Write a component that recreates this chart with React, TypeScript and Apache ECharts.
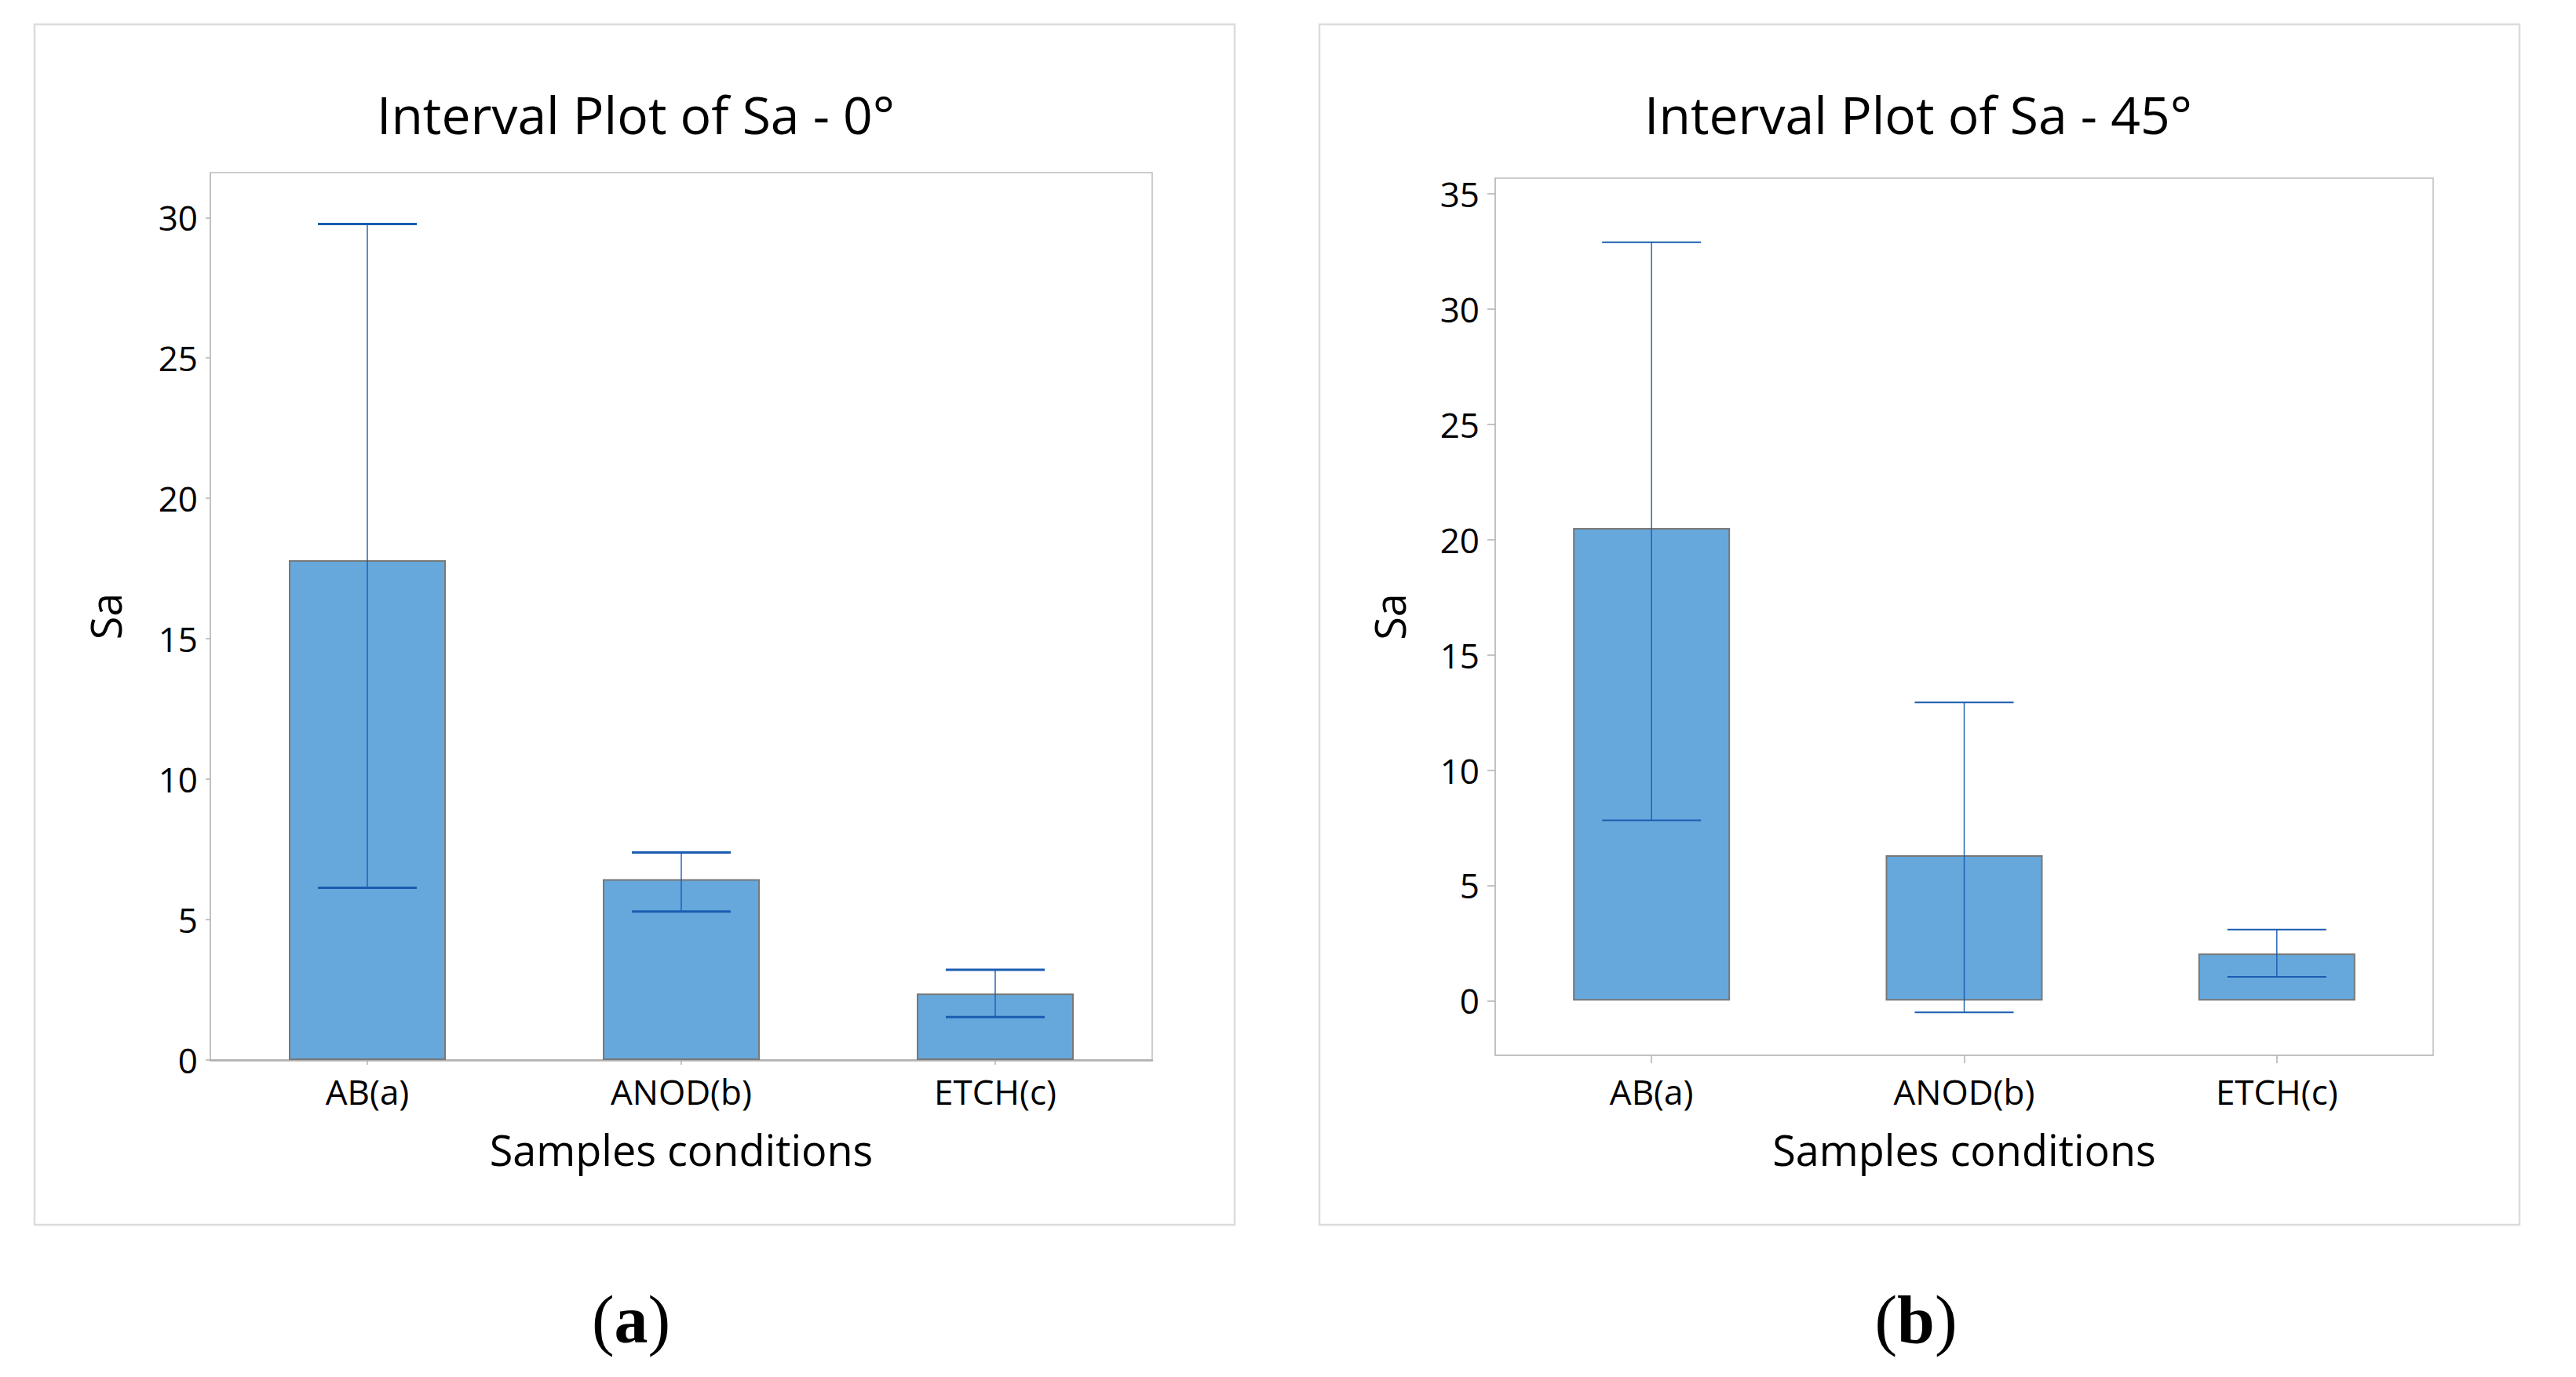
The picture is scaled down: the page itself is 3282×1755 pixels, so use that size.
import React, { useEffect, useRef } from "react";
import * as echarts from "echarts";

const categories = ["AB(a)", "ANOD(b)", "ETCH(c)"];

const means0 = [17.8, 6.44, 2.37];
const lower0 = [6.13, 5.29, 1.53];
const upper0 = [29.77, 7.39, 3.21];
const ticks0 = [0, 5, 10, 15, 20, 25, 30];
const range0 = [0, 31.6];

const means45 = [20.5, 6.31, 2.05];
const lower45 = [7.82, -0.51, 1.03];
const upper45 = [32.9, 12.94, 3.08];
const ticks45 = [0, 5, 10, 15, 20, 25, 30, 35];
const range45 = [-2.37, 35.68];

const titles = ["Interval Plot of Sa - 0°", "Interval Plot of Sa - 45°"];
const panelLabels = ["a", "b"];
const yName = "Sa";
const xName = "Samples conditions";

const FONT = "Open Sans";
const BAR_COLOR = "#66a8dc";
const BAR_BORDER = "#787878";
const ERR_COLOR = "#1a5cb0";
const FRAME = "#bdbdbd";

function errorSeries(lows: number[], highs: number[], idx: number, capW: number) {
  return {
    type: "custom",
    xAxisIndex: idx,
    yAxisIndex: idx,
    z: 5,
    data: lows.map((l, i) => [i, l, highs[i]]),
    encode: { x: 0, y: [1, 2] },
    renderItem: (params: any, api: any) => {
      const lo = api.coord([api.value(0), api.value(1)]);
      const hi = api.coord([api.value(0), api.value(2)]);
      const half = 63;
      return {
        type: "group",
        children: [
          { type: "line", shape: { x1: lo[0], y1: lo[1], x2: hi[0], y2: hi[1] }, style: { stroke: ERR_COLOR, lineWidth: 1.4 } },
          { type: "line", shape: { x1: lo[0] - half, y1: lo[1], x2: lo[0] + half, y2: lo[1] }, style: { stroke: ERR_COLOR, lineWidth: capW } },
          { type: "line", shape: { x1: hi[0] - half, y1: hi[1], x2: hi[0] + half, y2: hi[1] }, style: { stroke: ERR_COLOR, lineWidth: capW } },
        ],
      };
    },
  };
}

export default function App() {
  const ref = useRef<HTMLDivElement>(null);
  useEffect(() => {
    document.body.style.margin = "0";
    const chart = echarts.init(ref.current!, undefined, { renderer: "svg" });
    const grids = [
      { left: 268, top: 220, width: 1200, height: 1131 },
      { left: 1905, top: 227, width: 1195, height: 1118 },
    ];
    const xAxisBase = (idx: number, lineW: number, lineColor: string, margin: number, tickLen: number, nameGap: number) => ({
      type: "category",
      gridIndex: idx,
      data: categories,
      boundaryGap: true,
      axisLine: { show: true, onZero: false, lineStyle: { color: lineColor, width: lineW } },
      axisTick: { show: true, alignWithLabel: true, length: tickLen, lineStyle: { color: "#b0b0b0", width: 1.5 } },
      axisLabel: { fontFamily: FONT, fontSize: 44, color: "#000", margin },
      name: xName,
      nameLocation: "middle",
      nameGap,
      nameTextStyle: { fontFamily: FONT, fontSize: 54, color: "#000" },
    });
    const yAxisBase = (idx: number, range: number[], ticks: number[], gap: number, margin: number, tickLen: number) => ({
      type: "value",
      gridIndex: idx,
      min: range[0],
      max: range[1],
      axisLine: { show: true, lineStyle: { color: FRAME, width: 1.5 } },
      axisTick: { show: true, length: tickLen, customValues: ticks, lineStyle: { color: "#b0b0b0", width: 1.5 } },
      axisLabel: { fontFamily: FONT, fontSize: 44, color: "#000", margin, customValues: ticks },
      splitLine: { show: false },
      name: yName,
      nameLocation: "middle",
      nameGap: gap,
      nameTextStyle: { fontFamily: FONT, fontSize: 54, color: "#000" },
    });
    const barSeries = (vals: number[], idx: number) => ({
      type: "bar",
      xAxisIndex: idx,
      yAxisIndex: idx,
      data: vals,
      barWidth: 200,
      itemStyle: { color: BAR_COLOR, borderColor: BAR_BORDER, borderWidth: 2 },
      z: 2,
    });
    const panelX = [44, 1681];
    const titleX = [810, 2444];
    const labelX = [804, 2441];
    const graphics: any[] = [];
    panelX.forEach((px, i) => {
      graphics.push({
        type: "rect",
        z: -10,
        shape: { x: px, y: 31, width: 1529, height: 1530 },
        style: { fill: "#fff", stroke: "#dcdcdc", lineWidth: 2.5 },
      });
      graphics.push({
        type: "text",
        x: titleX[i],
        y: 145,
        style: { text: titles[i], fontFamily: FONT, fontSize: 66, fill: "#000", textAlign: "center", textVerticalAlign: "middle" },
      });
      graphics.push({
        type: "text",
        x: labelX[i],
        y: 1682,
        style: {
          text: "{p|(}{b|" + panelLabels[i] + "}{p|)}",
          textAlign: "center",
          textVerticalAlign: "middle",
          rich: {
            p: { fontFamily: "Liberation Serif", fontSize: 86, fill: "#000" },
            b: { fontFamily: "Liberation Serif", fontSize: 86, fontWeight: "bold", fill: "#000" },
          },
        },
      });
    });
    chart.setOption({
      animation: false,
      backgroundColor: "#fff",
      grid: grids.map((g) => ({ ...g, show: true, borderColor: FRAME, borderWidth: 1.5, backgroundColor: "transparent" })),
      xAxis: [xAxisBase(0, 2.5, "#b0b0b0", 18, 6, 87), xAxisBase(1, 1.5, FRAME, 24, 10, 93)],
      yAxis: [yAxisBase(0, range0, ticks0, 107, 16, 6), yAxisBase(1, range45, ticks45, 108, 20, 10)],
      series: [
        barSeries(means0, 0),
        errorSeries(lower0, upper0, 0, 3),
        barSeries(means45, 1),
        errorSeries(lower45, upper45, 1, 2),
      ],
      graphic: graphics,
    });
    return () => chart.dispose();
  }, []);
  return <div ref={ref} style={{ position: "absolute", left: 0, top: 0, width: 3282, height: 1755 }} />;
}
